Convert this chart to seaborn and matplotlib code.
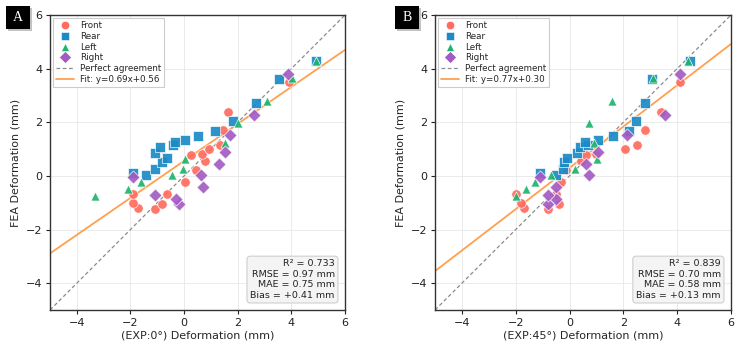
import numpy as np
import pandas as pd
import matplotlib
matplotlib.use("Agg")
import matplotlib.pyplot as plt
from matplotlib.lines import Line2D
from matplotlib.patches import Rectangle
import seaborn as sns

# ---------------- data ----------------
positions = ["Front", "Rear", "Left", "Right"]

front_fea  = [-1.22, -1.21, -1.06, -1.01, -0.67, -0.66, -0.22, 0.21, 0.56, 0.79, 0.83, 1.01, 1.17, 1.72, 2.39, 3.51]
front_exp0 = [-1.10, -1.72, -0.81, -1.90, -1.90, -0.65, 0.04, 0.45, 0.77, 0.25, 0.65, 0.93, 1.34, 1.44, 1.62, 3.92]
front_exp45 = [-0.80, -1.70, -0.38, -1.81, -1.99, -0.51, -0.31, -0.12, 0.41, 0.62, 1.00, 2.06, 2.51, 2.79, 3.40, 4.12]

rear_fea  = [0.04, 0.11, 0.27, 0.51, 0.67, 0.86, 1.08, 1.17, 1.27, 1.33, 1.47, 1.69, 2.04, 2.71, 3.60, 4.28]
rear_exp0 = [-1.42, -1.90, -1.10, -0.81, -0.65, -1.08, -0.88, -0.40, -0.34, 0.05, 0.50, 1.17, 1.81, 2.69, 3.53, 4.91]
rear_exp45 = [-0.51, -1.09, -0.25, -0.20, -0.09, 0.29, 0.40, 0.70, 0.57, 1.06, 1.60, 2.21, 2.48, 2.81, 3.08, 4.47]

left_fea  = [-0.74, -0.49, -0.21, 0.05, 0.25, 0.63, 1.23, 1.96, 2.79, 3.64, 4.28]
left_exp0 = [-3.32, -2.09, -1.62, -0.46, -0.04, 0.05, 1.52, 2.00, 3.11, 4.03, 4.91]
left_exp45 = [-1.99, -1.60, -1.28, -0.68, 0.19, 1.01, 0.92, 0.71, 1.59, 3.09, 4.42]

right_fea  = [-1.04, -0.86, -0.71, -0.41, -0.04, 0.02, 0.46, 0.88, 1.52, 2.27, 3.79]
right_exp0 = [-0.20, -0.30, -1.10, 0.71, -1.90, 0.62, 1.29, 1.54, 1.71, 2.61, 3.89]
right_exp45 = [-0.80, -0.51, -0.80, -0.51, -1.09, 0.71, 0.62, 1.07, 2.14, 3.53, 4.12]

fit_slope = [0.69, 0.77]
fit_intercept = [0.56, 0.30]
stats_r2 = ["0.733", "0.839"]
stats_rmse = ["0.97", "0.70"]
stats_mae = ["0.75", "0.58"]
stats_bias = ["+0.41", "+0.13"]
xlabels = ["(EXP:0°) Deformation (mm)", "(EXP:45°) Deformation (mm)"]
panel_letters = ["A", "B"]

# ---------------- style ----------------
sns.set_style("ticks")
plt.rcParams["font.family"] = ["DejaVu Sans"]

colors = {"Front": "#FF6B5E", "Rear": "#1A8BC6", "Left": "#1DB46C", "Right": "#A35BC3"}
markers = {"Front": "o", "Rear": "s", "Left": "^", "Right": "D"}
sizes = {"Front": 46, "Rear": 50, "Left": 42, "Right": 44}
fit_color = "#FFA04F"

fea = {"Front": front_fea, "Rear": rear_fea, "Left": left_fea, "Right": right_fea}
exp = [
    {"Front": front_exp0, "Rear": rear_exp0, "Left": left_exp0, "Right": right_exp0},
    {"Front": front_exp45, "Rear": rear_exp45, "Left": left_exp45, "Right": right_exp45},
]

fig = plt.figure(figsize=(7.38, 3.46), dpi=100)
axes = [
    fig.add_axes([50 / 738, 36 / 346, 295 / 738, 295 / 346]),
    fig.add_axes([435 / 738, 36 / 346, 296 / 738, 295 / 346]),
]

for i, ax in enumerate(axes):
    rows = []
    for p in positions:
        for xv, yv in zip(exp[i][p], fea[p]):
            rows.append({"exp": xv, "fea": yv, "pos": p})
    df = pd.DataFrame(rows)

    ax.set_xlim(-5, 6)
    ax.set_ylim(-5, 6)
    ax.grid(True, color="#e8e8e8", lw=0.6, zorder=0)
    ax.set_axisbelow(True)

    # perfect agreement
    ax.plot([-5, 6], [-5, 6], ls=(0, (3, 2)), color="#8c8c8c", lw=0.9, zorder=1)
    # fit line
    xx = np.array([-5, 6])
    ax.plot(xx, fit_slope[i] * xx + fit_intercept[i], color=fit_color, lw=1.3, zorder=1.5)

    for p in positions:
        sub = df[df["pos"] == p]
        sns.scatterplot(data=sub, x="exp", y="fea", ax=ax, color=colors[p],
                        marker=markers[p], s=sizes[p], edgecolor="white",
                        linewidth=0.5, alpha=0.92, legend=False, zorder=3)

    ax.set_xticks([-4, -2, 0, 2, 4, 6])
    ax.set_yticks([-4, -2, 0, 2, 4, 6])
    ax.tick_params(labelsize=8, length=3, width=0.8, pad=2.5, colors="#222222")
    for s in ax.spines.values():
        s.set_color("#333333")
        s.set_linewidth(1.0)
    ax.set_xlabel(xlabels[i], fontsize=8, labelpad=2)
    ax.set_ylabel("FEA Deformation (mm)", fontsize=8, labelpad=4)

    handles = [
        Line2D([], [], ls="none", marker=markers[p], color=colors[p], markersize=6,
               markeredgecolor="white", markeredgewidth=0.4) for p in positions
    ]
    handles += [
        Line2D([], [], ls=(0, (3, 2)), color="#8c8c8c", lw=0.9),
        Line2D([], [], color=fit_color, lw=1.3),
    ]
    labels = positions + ["Perfect agreement",
                          f"Fit: y={fit_slope[i]:.2f}x+{fit_intercept[i]:.2f}"]
    leg = ax.legend(handles, labels, loc="upper left", fontsize=6.3, frameon=True,
                    fancybox=False, edgecolor="#cccccc", framealpha=1,
                    handlelength=2.0, labelspacing=0.2, borderpad=0.35,
                    handletextpad=0.7, borderaxespad=0.35)
    leg.get_frame().set_linewidth(0.8)

    txt = (f"R² = {stats_r2[i]}\nRMSE = {stats_rmse[i]} mm\n"
           f"MAE = {stats_mae[i]} mm\nBias = {stats_bias[i]} mm")
    ax.text(0.965, 0.035, txt, transform=ax.transAxes, ha="right", va="bottom",
            fontsize=6.8, color="#222222", linespacing=1.2,
            bbox=dict(boxstyle="round,pad=0.35", fc="#f4f4f4", ec="#cfcfcf", lw=0.8))

# panel letters
for i, xpx in enumerate([6, 395]):
    fig.patches.append(Rectangle(((xpx + 2) / 738, 1 - 31 / 346), 24 / 738, 23 / 346,
                                 transform=fig.transFigure, fc="#9a9a9a", ec="none",
                                 alpha=0.6, zorder=5))
    fig.patches.append(Rectangle((xpx / 738, 1 - 29 / 346), 24 / 738, 23 / 346,
                                 transform=fig.transFigure, fc="black", ec="none", zorder=6))
    fig.text((xpx + 12) / 738, 1 - 17.5 / 346, panel_letters[i], color="white",
             fontsize=10, family=["Liberation Serif", "DejaVu Serif"],
             ha="center", va="center", zorder=7)

fig.savefig("out.png", dpi=100)
